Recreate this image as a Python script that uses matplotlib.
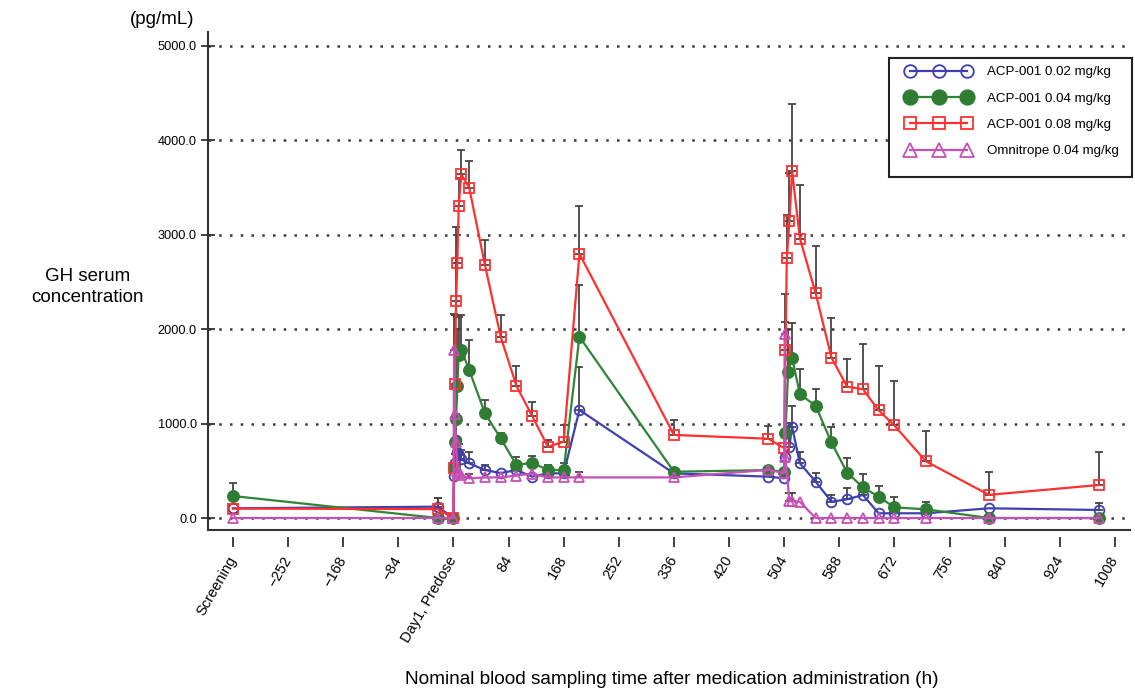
import numpy as np
import matplotlib
matplotlib.use("Agg")
import matplotlib.pyplot as plt
from matplotlib.patches import Rectangle

plt.rcParams['font.family'] = ['Liberation Sans', 'DejaVu Sans']

# ---------------- data (hours after first dose, pg/mL) ----------------
series_labels = ['ACP-001 0.02 mg/kg', 'ACP-001 0.04 mg/kg',
                 'ACP-001 0.08 mg/kg', 'Omnitrope 0.04 mg/kg']

t_low = [-336, -24, 0, 1, 2, 4, 6, 8, 12, 24, 48, 72, 96, 120, 144, 168, 192, 336,
         480, 504, 506, 512, 516, 528, 552, 576, 600, 624, 648, 672, 720, 816, 984]
v_low = [103, 120, 0, 450, 580, 826, 700, 667, 620, 579, 508, 476, 508, 438, 473, 473, 1144, 473,
         438, 420, 649, 755, 967, 579, 385, 173, 198, 244, 50, 50, 50, 103, 85]
sd_low = [0, 90, 0, 0, 100, 280, 150, 120, 100, 120, 50, 0, 40, 0, 0, 0, 460, 0,
          0, 0, 0, 250, 220, 123, 95, 71, 117, 90, 0, 0, 0, 0, 75]

t_mid = [-336, -24, 0, 1, 2, 4, 6, 8, 12, 24, 48, 72, 96, 120, 144, 168, 192, 336,
         480, 504, 506, 510, 516, 528, 552, 576, 600, 624, 648, 672, 720, 816, 984]
v_mid = [233, 0, 0, 530, 800, 1050, 1400, 1730, 1780, 1568, 1109, 844, 561, 586, 508, 508, 1920, 490,
         508, 490, 900, 1550, 1700, 1310, 1190, 800, 480, 325, 226, 113, 92, 0, 0]
sd_mid = [134, 0, 0, 0, 0, 0, 600, 400, 370, 318, 141, 53, 88, 71, 52, 71, 548, 0,
          0, 0, 0, 450, 362, 265, 173, 167, 159, 141, 113, 113, 81, 0, 0]

t_high = [-336, -24, 0, 1, 2, 4, 6, 8, 12, 24, 48, 72, 96, 120, 144, 168, 192, 336,
          480, 504, 506, 508, 512, 516, 528, 552, 576, 600, 624, 648, 672, 720, 816, 984]
v_high = [100, 94, 0, 530, 1420, 2300, 2700, 3300, 3640, 3500, 2680, 1920, 1400, 1080, 755, 808, 2800, 880,
          840, 740, 1780, 2750, 3150, 3680, 2960, 2380, 1700, 1390, 1365, 1140, 980, 600, 245, 350]
sd_high = [0, 115, 0, 0, 730, 780, 300, 300, 260, 280, 260, 230, 210, 152, 71, 177, 505, 158,
           130, 0, 300, 460, 500, 710, 570, 500, 420, 290, 475, 470, 475, 325, 245, 352]

t_omni = [-336, -24, 0, 1, 2, 4, 6, 8, 12, 24, 48, 72, 96, 120, 144, 168, 192, 336,
          480, 504, 505, 506, 512, 516, 528, 552, 576, 600, 624, 648, 672, 720, 816, 984]
v_omni = [0, 0, 0, 1780, 1100, 800, 500, 480, 460, 420, 430, 430, 450, 470, 430, 430, 430, 430,
          510, 475, 1950, 650, 180, 180, 170, 0, 0, 0, 0, 0, 0, 0, 0, 0]
sd_omni = [0, 0, 0, 380, 0, 0, 0, 0, 0, 50, 0, 0, 0, 0, 0, 0, 60, 0,
           0, 0, 420, 0, 80, 80, 0, 0, 0, 0, 0, 0, 0, 0, 0, 0]

x_ticks = list(range(-336, 1009, 84))
x_ticklabels = ['Screening', '\u2212252', '\u2212168', '\u221284', 'Day1, Predose',
                '84', '168', '252', '336', '420', '504', '588', '672', '756', '840',
                '924', '1008']
y_ticks = [0, 1000, 2000, 3000, 4000, 5000]
y_ticklabels = ['0.0', '1000.0', '2000.0', '3000.0', '4000.0', '5000.0']

# ---------------- figure ----------------
W, H = 1135, 693
fig = plt.figure(figsize=(W / 100, H / 100), dpi=100)
ax = fig.add_axes([208 / W, 1 - 530 / H, (1130 - 208) / W, (530 - 32) / H])
ax.set_xlim(-374, 1031)
ax.set_ylim(-127, 5148)

axis_col = '#333333'
err_col = '#454545'

styles = [
    dict(color='#3f3fb0', marker='o', mfc='none', mec='#3f3fb0', ms=7),
    dict(color='#2e8534', marker='o', mfc='#2e7d32', mec='#2e7d32', ms=8),
    dict(color='#ff3030', marker='s', mfc='none', mec='#ff3030', ms=6.5),
    dict(color='#c650b6', marker='^', mfc='none', mec='#c650b6', ms=7.5),
]
data = [(t_low, v_low, sd_low), (t_mid, v_mid, sd_mid),
        (t_high, v_high, sd_high), (t_omni, v_omni, sd_omni)]

handles = []
for i, ((t, v, sd), st, lab) in enumerate(zip(data, styles, series_labels)):
    t = np.array(t, float); v = np.array(v, float); sd = np.array(sd, float)
    m = sd > 0
    ax.errorbar(t[m], v[m], yerr=[np.zeros(m.sum()), sd[m]], fmt='none',
                ecolor=err_col, elinewidth=1.3, capsize=3, capthick=1.3, zorder=2)
    ln, = ax.plot(t, v, color=st['color'], lw=1.6, marker=st['marker'],
                  mfc=st['mfc'], mec=st['mec'], ms=st['ms'], mew=1.3,
                  zorder=3 + i, label=lab)
    handles.append(ln)

# grid
ax.set_axisbelow(True)
ax.yaxis.grid(True, linestyle=(0, (1, 3.3)), color='#3a3a3a', lw=1.8)

# spines
for s in ['top', 'right']:
    ax.spines[s].set_visible(False)
ax.spines['left'].set_color(axis_col)
ax.spines['left'].set_linewidth(1.5)
ax.spines['bottom'].set_position(('outward', 5))
ax.spines['bottom'].set_visible(False)
ax.plot([0, 1], [0, 0], transform=ax.transAxes, color=axis_col, lw=1.5,
        clip_on=False, zorder=10)

ax.set_yticks(y_ticks)
ax.set_yticklabels(y_ticklabels)
ax.tick_params(axis='y', direction='inout', length=10, width=1.3, color=axis_col,
               labelsize=9.2, pad=3)
ax.set_xticks(x_ticks)
ax.set_xticklabels(x_ticklabels, rotation=60, rotation_mode='anchor',
                   ha='right', va='center')
ax.tick_params(axis='x', direction='out', length=7.5, width=1.3, color=axis_col,
               labelsize=10.5, pad=7)

# labels
fig.text(162 / W, 1 - 20 / H, '(pg/mL)', ha='center', va='center', fontsize=13.5)
fig.text(88 / W, 1 - 287 / H, 'GH serum\nconcentration', ha='center', va='center',
         fontsize=13.5, linespacing=1.25)
fig.text(672 / W, 1 - 680 / H,
         'Nominal blood sampling time after medication administration (h)',
         ha='center', va='center', fontsize=13.7)

# legend box
rect = Rectangle((889 / W, 1 - 177 / H), (1132 - 889) / W, (177 - 58) / H,
                 transform=fig.transFigure, facecolor='white', edgecolor='#222222',
                 lw=1.5, zorder=20)
fig.add_artist(rect)
fs = 9.6
fs_px = fs * 100 / 72
leg = fig.legend(handles=handles, loc='upper left',
                 bbox_to_anchor=((910 - 0.3 * fs_px) / W, 1 - 66 / H),
                 bbox_transform=fig.transFigure, frameon=False, fontsize=fs,
                 numpoints=3, markerscale=1.3, borderpad=0, borderaxespad=0,
                 handlelength=(57 + 0.6 * fs_px) / fs_px,
                 handletextpad=(987 - 967 - 0.3 * fs_px) / fs_px,
                 labelspacing=1.05)
leg.set_zorder(21)

fig.savefig('out.png', dpi=100)
